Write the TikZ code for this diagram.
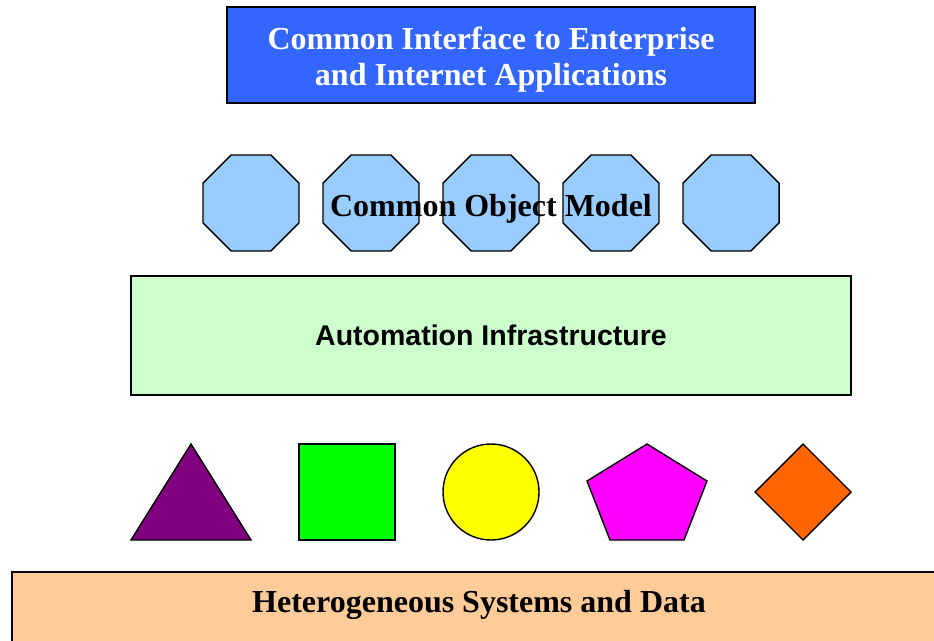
\documentclass[tikz,border=0pt]{standalone}
\usepackage{fontspec}
\setmainfont{Liberation Serif}
\newfontfamily\arialfont{Liberation Sans}
\usepackage{tikz}
\usetikzlibrary{shapes.geometric}
\definecolor{ifaceblue}{HTML}{3366FF}
\definecolor{objblue}{HTML}{99CCFF}
\definecolor{infragreen}{HTML}{CCFFCC}
\definecolor{sysorange}{HTML}{FFCC99}
\definecolor{tripurple}{HTML}{800080}
\definecolor{sqgreen}{HTML}{00FF00}
\definecolor{circyellow}{HTML}{FFFF00}
\definecolor{pentmagenta}{HTML}{FF00FF}
\definecolor{diaorange}{HTML}{FF6600}

\begin{document}
\begin{tikzpicture}[x=1pt, y=-1pt, line width=1.4pt,
    octa/.style={draw, fill=objblue, regular polygon, regular polygon sides=8, minimum size=104, inner sep=0pt},
    bigtext/.style={font=\fontsize{32}{36}\selectfont\bfseries}]
      \useasboundingbox (0,0) rectangle (934,640);
      \clip (0,0) rectangle (934,640);

      \draw (491,55) node[draw, fill=ifaceblue, minimum width=528, minimum height=96] (Iface) {};
      \draw (491,60) node[text=white, align=center, bigtext] (IfaceTxt) {Common Interface to Enterprise\\and Internet Applications};

      \draw (251,203) node[octa] (O1) {};
      \draw (371,203) node[octa] (O2) {};
      \draw (491,203) node[octa] (O3) {};
      \draw (611,203) node[octa] (O4) {};
      \draw (731,203) node[octa] (O5) {};
      \draw (491,216) node[anchor=base, bigtext] (Com) {Common Object Model};

      \draw (491,335.5) node[draw, fill=infragreen, minimum width=720, minimum height=119, font=\arialfont\fontsize{28.5}{32}\selectfont\bfseries] (Infra) {Automation Infrastructure};

      \draw[fill=tripurple] (131,540) -- (191,444) -- (251,540) -- cycle;
      \draw[fill=sqgreen] (299,444) rectangle (395,540);
      \draw[fill=circyellow] (491,492) circle (48);
      \draw[fill=pentmagenta] (647,444) -- (707,481) -- (684,540) -- (610,540) -- (587,481) -- cycle;
      \draw[fill=diaorange] (803,444) -- (851,492) -- (803,540) -- (755,492) -- cycle;

      \draw[fill=sysorange] (12,572) rectangle (960,680);
      \draw (479,605) node[bigtext] (Het) {Heterogeneous Systems and Data};
\end{tikzpicture}
\end{document}
